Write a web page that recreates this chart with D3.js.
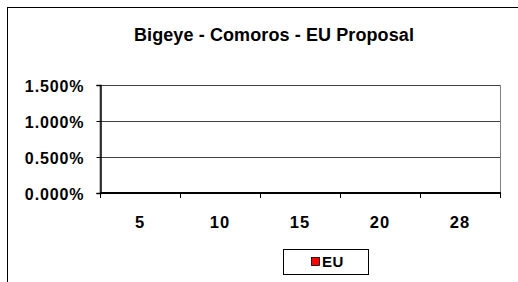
<!DOCTYPE html>
<html>
<head>
<meta charset="utf-8">
<script src="https://cdn.jsdelivr.net/npm/d3@7"></script>
<style>
  body { margin: 0; background: #fff; }
  text { font-family: Arial, "Liberation Sans", sans-serif; font-weight: bold; fill: #000; }
</style>
</head>
<body>
<script>
const title = 'Bigeye - Comoros - EU Proposal';
const categories = ['5', '10', '15', '20', '28'];
const seriesName = 'EU';
const euValues = [0, 0, 0, 0, 0];
const yTicks = [0, 0.005, 0.01, 0.015];

const w = 518,
      h = 282,
      plotLeft = 100,
      plotRight = 500,
      plotTop = 85,
      plotBottom = 193;

const svg = d3.select('body')
            .append('svg')
            .attr('width', w)
            .attr('height', h);

// outer chart frame (right and bottom run off the page)
svg.append('rect')
    .attr('x', 7.5)
    .attr('y', 7.5)
    .attr('width', 520)
    .attr('height', 290)
    .attr('fill', '#fff')
    .attr('stroke', '#000')
    .attr('stroke-width', 1);

svg.append('text')
    .attr('x', 274)
    .attr('y', 41)
    .attr('text-anchor', 'middle')
    .style('font-size', '18px')
    .style('letter-spacing', '0.1px')
    .text(title);

const xScale = d3.scaleBand()
                .domain(categories)
                .range([plotLeft, plotRight])
                .paddingInner(0.4)
                .paddingOuter(0.2);
const yScale = d3.scaleLinear()
                .domain([0, 0.015])
                .range([plotBottom, plotTop]);

// plot area border + gridlines
svg.append('rect')
    .attr('x', plotLeft)
    .attr('y', plotTop + 0.5)
    .attr('width', plotRight - plotLeft + 0.5)
    .attr('height', plotBottom - plotTop)
    .attr('fill', 'none')
    .attr('stroke', '#808080');

svg.append('g')
    .selectAll('line')
    .data(yTicks.slice(1))
    .enter()
    .append('line')
    .attr('x1', plotLeft)
    .attr('x2', plotRight)
    .attr('y1', (d) => Math.round(yScale(d)) + 0.5)
    .attr('y2', (d) => Math.round(yScale(d)) + 0.5)
    .attr('stroke', '#404040');

// bars (all zero)
svg.selectAll('.bar')
    .data(euValues)
    .enter()
    .append('rect')
    .attr('class', 'bar')
    .attr('x', (d, i) => xScale(categories[i]))
    .attr('y', (d) => yScale(d))
    .attr('width', xScale.bandwidth())
    .attr('height', (d) => plotBottom - yScale(d))
    .attr('fill', '#ff0000');

const yAxis = d3.axisLeft(yScale)
                .tickValues(yTicks)
                .tickSize(4)
                .tickPadding(12)
                .tickFormat(d3.format('.3%'));
const yG = svg.append('g')
    .attr('transform', 'translate(' + (plotLeft + 0.5) + ',0)')
    .call(yAxis);
yG.select('.domain').attr('stroke', '#000').attr('stroke-width', 1.5);
yG.selectAll('text')
    .attr('dy', '0.62em')
    .attr('y', -3)
    .style('font-size', '16px')
    .style('letter-spacing', '0.9px')
    .style('font-family', 'Arial, "Liberation Sans", sans-serif');

// x axis: ticks between categories
const xEdges = d3.scaleLinear().domain([0, categories.length]).range([plotLeft, plotRight]);
const xG = svg.append('g')
    .attr('transform', 'translate(0,' + plotBottom + ')');
xG.append('line')
    .attr('x1', plotLeft)
    .attr('x2', plotRight + 1)
    .attr('stroke', '#000')
    .attr('stroke-width', 2);
xG.selectAll('.tk')
    .data(d3.range(categories.length + 1))
    .enter()
    .append('line')
    .attr('class', 'tk')
    .attr('x1', (d) => Math.round(xEdges(d)) + 0.5)
    .attr('x2', (d) => Math.round(xEdges(d)) + 0.5)
    .attr('y1', 0)
    .attr('y2', 5)
    .attr('stroke', '#000');
xG.selectAll('.lbl')
    .data(categories)
    .enter()
    .append('text')
    .attr('class', 'lbl')
    .attr('x', (d) => xScale(d) + xScale.bandwidth() / 2)
    .attr('y', 35)
    .attr('text-anchor', 'middle')
    .style('font-size', '16.5px')
    .style('letter-spacing', '1px')
    .text((d) => d);

// legend
const lg = svg.append('g').attr('transform', 'translate(283,249)');
lg.append('rect')
    .attr('x', 0.5)
    .attr('y', 0.5)
    .attr('width', 85)
    .attr('height', 25)
    .attr('fill', '#fff')
    .attr('stroke', '#000');
lg.append('rect')
    .attr('x', 28.5)
    .attr('y', 8.5)
    .attr('width', 8)
    .attr('height', 8)
    .attr('fill', '#ff0000')
    .attr('stroke', '#000')
    .attr('stroke-width', 0.8);
lg.append('text')
    .attr('x', 39)
    .attr('y', 18)
    .style('font-size', '15px')
    .style('letter-spacing', '0.6px')
    .text(seriesName);
</script>
</body>
</html>
